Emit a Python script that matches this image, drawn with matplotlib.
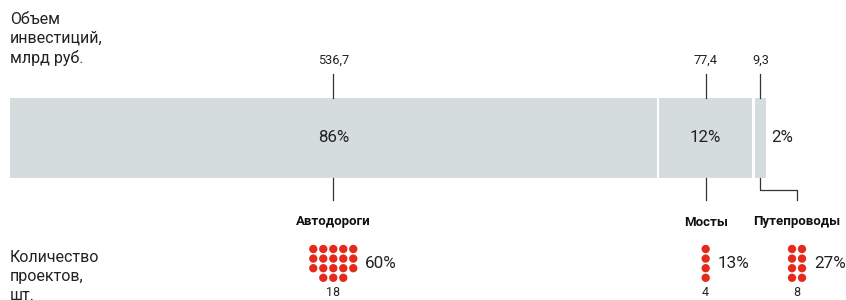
import matplotlib.pyplot as plt
import numpy as np

plt.rcParams['font.family'] = ['Roboto', 'DejaVu Sans']

categories = ['Автодороги', 'Мосты', 'Путепроводы']
invest = [536.7, 77.4, 9.3]
invest_labels = ['536,7', '77,4', '9,3']
invest_pct = ['86%', '12%', '2%']
projects = [18, 4, 8]
projects_pct = ['60%', '13%', '27%']
dot_cols = [5, 1, 2]

bar_color = '#d5dcde'
dot_color = '#e52a1c'
txt = '#222222'

fig = plt.figure(figsize=(8.46, 3.0), dpi=100)
ax = fig.add_axes([0, 0, 1, 1])
ax.set_xlim(0, 846)
ax.set_ylim(300, 0)
ax.axis('off')

# bar geometry (pixel units)
x0, x1 = 10, 766
gap = 2.5
bar_top, bar_bot = 98, 178
scale = (x1 - x0 - gap * (len(invest) - 1)) / sum(invest)
widths = np.array(invest) * scale
lefts = x0 + np.concatenate([[0], np.cumsum(widths[:-1])]) + gap * np.arange(len(invest))
centers = lefts + widths / 2

ax.barh((bar_top + bar_bot) / 2, widths, left=lefts, height=bar_bot - bar_top,
        color=bar_color, edgecolor='none')

# label positions for the lower part (last one shifted right via an elbow)
low_x = centers.copy()
low_x[2] = 797

for i in range(len(invest)):
    c = centers[i]
    ax.text(c, 60, invest_labels[i], ha='center', va='center', fontsize=9.2, color=txt)
    ax.plot([c, c], [74, bar_top], color='#333333', lw=0.9)
    if i < 2:
        ax.text(c, 138, invest_pct[i], ha='center', va='center', fontsize=12.2, color=txt)
        ax.plot([c, c], [bar_bot, 200], color='#333333', lw=0.9)
    else:
        ax.text(lefts[i] + widths[i] + 5, 138, invest_pct[i], ha='left', va='center',
                fontsize=12.2, color=txt)
        ax.plot([c, c, low_x[i], low_x[i]], [bar_bot, 190, 190, 200],
                color='#333333', lw=0.9)

    ax.text(low_x[i], 222, categories[i], ha='center', va='center', fontsize=9.5,
            fontweight='bold', color='#111111')

    # dots
    n = projects[i]
    cols = dot_cols[i]
    xs, ys = [], []
    rows = int(np.ceil(n / cols))
    for r in range(rows):
        k = min(cols, n - r * cols)
        for j in range(k):
            xs.append(low_x[i] + (j - (k - 1) / 2) * 10)
            ys.append(249 + r * 9.6)
    ax.scatter(xs, ys, s=36, color=dot_color, edgecolor='none')
    right = low_x[i] + (cols - 1) / 2 * 10 + 12
    ax.text(right, 264, projects_pct[i], ha='left', va='center', fontsize=12.3, color=txt)
    ax.text(low_x[i], 293, str(projects[i]), ha='center', va='center', fontsize=9, color=txt)

ax.text(10, 12, 'Объем\nинвестиций,\nмлрд руб.', ha='left', va='top', fontsize=11.5,
        color=txt, linespacing=1.32)
ax.text(10, 250, 'Количество\nпроектов,\nшт.', ha='left', va='top', fontsize=11.5,
        color=txt, linespacing=1.32)

fig.savefig('out.png', dpi=100)
